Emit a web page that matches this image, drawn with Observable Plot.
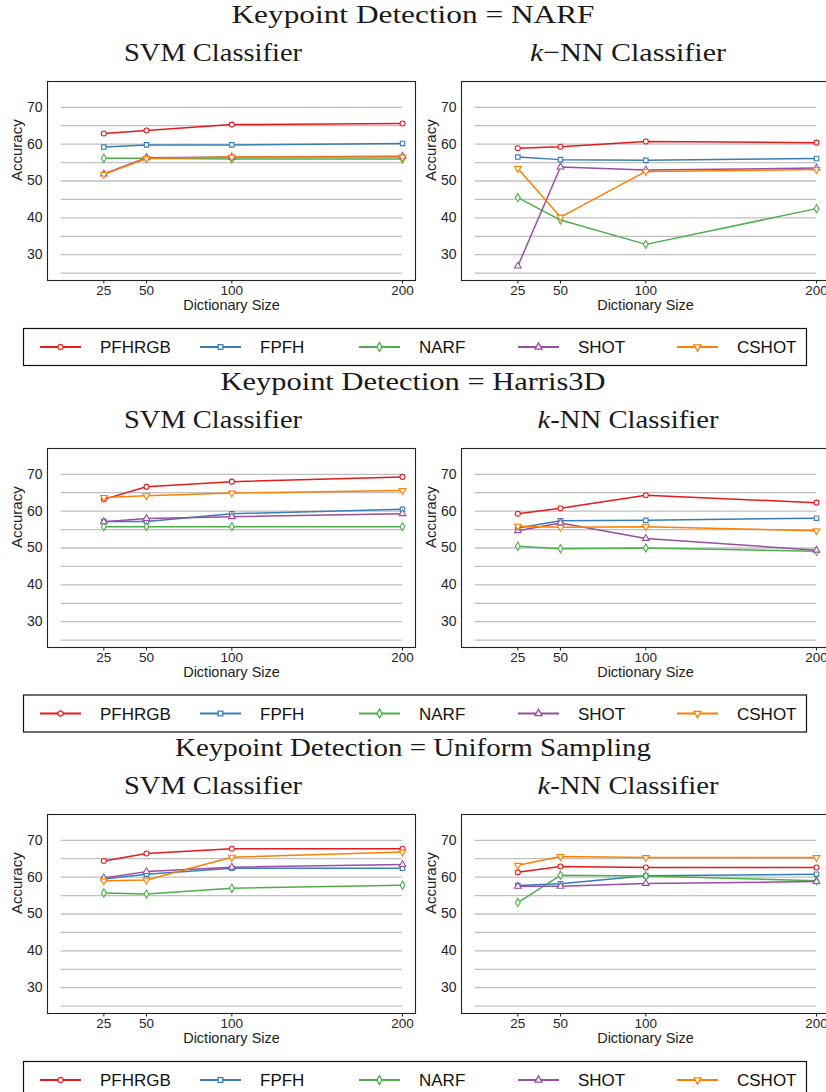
<!DOCTYPE html>
<html>
<head>
<meta charset="utf-8">
<script src="https://cdn.jsdelivr.net/npm/d3@7"></script>
<script src="https://cdn.jsdelivr.net/npm/@observablehq/plot@0.6"></script>
<style>
  html, body { margin: 0; padding: 0; background: #fff; overflow: hidden; }
  #root { position: relative; width: 826px; height: 1092px; overflow: hidden; background: #fff; }
  #root > svg, #root > div { position: absolute; }
</style>
</head>
<body>
<div id="root"></div>
<script>
// ---------- data ----------
const sizes = [25, 50, 100, 200];
const methods = ["PFHRGB", "FPFH", "NARF", "SHOT", "CSHOT"];
const colors = ["#e41a1c", "#377eb8", "#4daf4a", "#984ea3", "#ff7f00"];
const yTicks = [30, 40, 50, 60, 70];
const gridLevels = [25, 30, 35, 40, 45, 50, 55, 60, 65, 70];
const detectors = ["NARF", "Harris3D", "Uniform Sampling"];

// rows: PFHRGB, FPFH, NARF, SHOT, CSHOT ; columns: dictionary sizes 25, 50, 100, 200
const narfSvm = [
  [62.9, 63.7, 65.3, 65.6],
  [59.2, 59.8, 59.8, 60.2],
  [56.2, 56.2, 56.0, 56.0],
  [51.9, 56.3, 56.5, 56.7],
  [51.8, 56.1, 56.5, 56.5]
];
const narfKnn = [
  [58.9, 59.3, 60.7, 60.4],
  [56.5, 55.8, 55.6, 56.1],
  [45.5, 39.4, 32.8, 42.5],
  [26.9, 53.8, 53.0, 53.5],
  [53.4, 40.2, 52.6, 53.1]
];
const harrisSvm = [
  [63.2, 66.6, 68.0, 69.3],
  [57.2, 57.2, 59.3, 60.5],
  [55.8, 55.8, 55.8, 55.8],
  [57.1, 58.0, 58.5, 59.3],
  [63.7, 64.2, 64.9, 65.6]
];
const harrisKnn = [
  [59.3, 60.8, 64.3, 62.3],
  [55.4, 57.4, 57.5, 58.1],
  [50.5, 49.8, 50.0, 49.1],
  [54.7, 56.8, 52.6, 49.4],
  [55.9, 55.6, 55.8, 54.7]
];
const uniformSvm = [
  [64.4, 66.4, 67.7, 67.7],
  [59.5, 60.8, 62.4, 62.4],
  [55.7, 55.4, 57.0, 57.8],
  [59.8, 61.5, 62.7, 63.4],
  [59.0, 59.2, 65.4, 66.8]
];
const uniformKnn = [
  [61.3, 62.9, 62.6, 62.6],
  [57.7, 58.2, 60.4, 60.8],
  [53.1, 60.5, 60.3, 59.0],
  [57.5, 57.5, 58.3, 58.8],
  [63.2, 65.6, 65.3, 65.3]
];

// ---------- styling ----------
const triangleDown = {
  draw(context, size) {
    const y = -Math.sqrt(size / (Math.sqrt(3) * 3));
    context.moveTo(0, -y * 2);
    context.lineTo(-Math.sqrt(3) * y, y);
    context.lineTo(Math.sqrt(3) * y, y);
    context.closePath();
  }
};
const symbols = [d3.symbolCircle, d3.symbolSquare, d3.symbolDiamond, d3.symbolTriangle, triangleDown];
const sansFont = "'Liberation Sans', Arial, Helvetica, sans-serif";
const serifFont = "'Liberation Serif', 'Times New Roman', serif";
const rowStep = 366.5;

const root = document.getElementById("root");

// ---------- overlay: titles and legends ----------
const W = 826, H = 1092;
const overlay = d3.create("svg").attr("width", W).attr("height", H)
  .attr("viewBox", `0 0 ${W} ${H}`).style("left", "0px").style("top", "0px");

const titleWidths = [363, 385, 476];
detectors.forEach((det, r) => {
  const top = r * rowStep;
  overlay.append("text")
    .attr("x", 413).attr("y", top + 23)
    .attr("text-anchor", "middle")
    .attr("font-family", serifFont).attr("font-size", 26).attr("fill", "#1a1a1a")
    .attr("textLength", titleWidths[r]).attr("lengthAdjust", "spacingAndGlyphs")
    .text(`Keypoint Detection = ${det}`);
  overlay.append("text")
    .attr("x", 213).attr("y", top + 61)
    .attr("text-anchor", "middle")
    .attr("font-family", serifFont).attr("font-size", 26).attr("fill", "#1a1a1a")
    .attr("textLength", 178).attr("lengthAdjust", "spacingAndGlyphs")
    .text("SVM Classifier");
  const k = overlay.append("text")
    .attr("x", 628).attr("y", top + 61)
    .attr("text-anchor", "middle")
    .attr("font-family", serifFont).attr("font-size", 26).attr("fill", "#1a1a1a")
    .attr("textLength", r === 0 ? 196 : 181).attr("lengthAdjust", "spacingAndGlyphs");
  k.append("tspan").attr("font-style", "italic").text("k");
  k.append("tspan").text(r === 0 ? "\u2212NN Classifier" : "-NN Classifier");

  // legend
  const ly = top + 347;
  overlay.append("rect")
    .attr("x", 23.5).attr("y", top + 328.5).attr("width", 783).attr("height", 37)
    .attr("fill", "#fff").attr("stroke", "#111").attr("stroke-width", 1.2);
  const lineX = [40, 200, 359, 518, 677];
  methods.forEach((m, i) => {
    const x0 = lineX[i];
    overlay.append("line")
      .attr("x1", x0).attr("x2", x0 + 41).attr("y1", ly).attr("y2", ly)
      .attr("stroke", colors[i]).attr("stroke-width", 1.8);
    overlay.append("path")
      .attr("transform", `translate(${x0 + 20.5},${ly})`)
      .attr("d", d3.symbol(symbols[i], 22)())
      .attr("fill", "#fff").attr("stroke", colors[i]).attr("stroke-width", 1.3);
    overlay.append("text")
      .attr("x", x0 + 60).attr("y", ly + 6)
      .attr("font-family", sansFont).attr("font-size", 17).attr("fill", "#111")
      .text(m);
  });
});
root.appendChild(overlay.node());

// ---------- panels ----------
const panels = [
  [narfSvm, narfKnn],
  [harrisSvm, harrisKnn],
  [uniformSvm, uniformKnn]
];

function tidy(vals) {
  return methods.flatMap((m, i) => sizes.map((s, j) => ({method: m, size: s, acc: vals[i][j]})));
}

function panel(vals) {
  const data = tidy(vals);
  const marks = [
    Plot.ruleY(gridLevels, {x1: 0, x2: 200, stroke: "#c0c0c0", strokeWidth: 1.3}),
    Plot.frame({stroke: "#222", strokeWidth: 1.1}),
    Plot.axisY(yTicks, {tickSize: 0, tickPadding: 5, fontSize: 14, label: null, fill: "#262626"}),
    Plot.axisX(sizes, {tickSize: 3.5, tickPadding: 1, fontSize: 13.5, label: null, fill: "#262626", stroke: "#222"}),
    Plot.text(["Accuracy"], {text: d => d, frameAnchor: "left", rotate: -90, dx: -30, fontSize: 15, fill: "#222"}),
    Plot.text(["Dictionary Size"], {text: d => d, frameAnchor: "bottom", dy: 29, fontSize: 14.5, fill: "#222"})
  ];
  methods.forEach((m, i) => {
    const sub = data.filter(d => d.method === m);
    marks.push(Plot.line(sub, {x: "size", y: "acc", stroke: colors[i], strokeWidth: 1.5}));
    marks.push(Plot.dot(sub, {x: "size", y: "acc", symbol: symbols[i], r: 2.5, stroke: colors[i], fill: "#fff", strokeWidth: 1.1}));
  });
  return Plot.plot({
    width: 420,
    height: 249,
    marginTop: 10,
    marginBottom: 40,
    marginLeft: 47,
    marginRight: 5,
    x: {type: "linear", domain: [-8, 207.6]},
    y: {domain: [23, 77]},
    style: {fontFamily: sansFont, fontSize: "14px", background: "transparent", overflow: "visible", color: "#222"},
    marks
  });
}

panels.forEach((pair, r) => {
  const top = r * rowStep + 71;
  pair.forEach((vals, c) => {
    const svg = panel(vals);
    svg.style.position = "absolute";
    svg.style.left = (c === 0 ? 0 : 414) + "px";
    svg.style.top = top + "px";
    root.appendChild(svg);
  });
});
</script>
</body>
</html>
